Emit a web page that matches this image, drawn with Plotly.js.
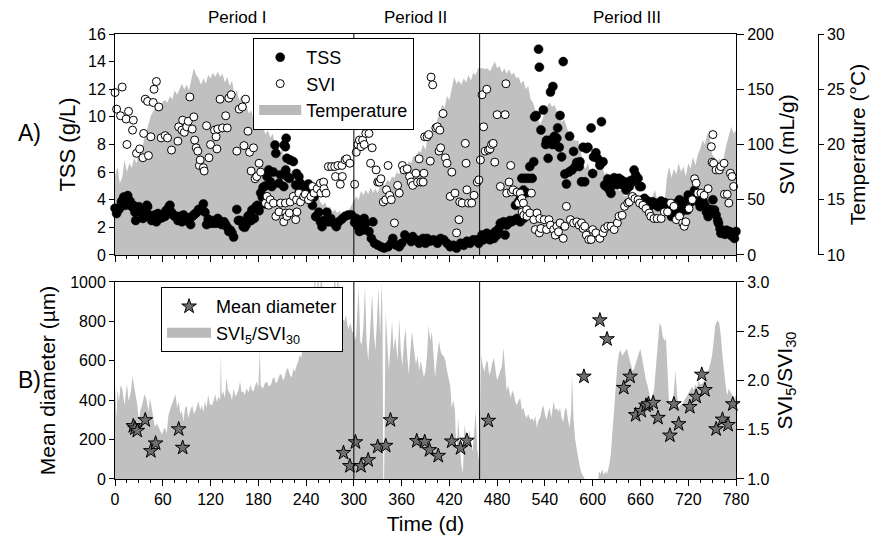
<!DOCTYPE html>
<html>
<head>
<meta charset="utf-8">
<script src="https://cdn.plot.ly/plotly-3.0.1.min.js"></script>
<style>html,body{margin:0;padding:0;background:#fff;}#chart{width:878px;height:548px;}</style>
</head>
<body>
<div id="chart"></div>
<script>
// ---------- Panel A: temperature (daily, sampled every 3 d) ----------
const tempDay = [0,3,6,9,12,15,18,21,24,27,30,33,36,39,42,45,48,51,54,57,60,63,66,69,72,75,78,81,84,87,90,93,96,99,102,105,108,111,114,117,120,123,126,129,132,135,138,141,144,147,150,153,156,159,162,165,168,171,174,177,180,183,186,189,192,195,198,201,204,207,210,213,216,219,222,225,228,231,234,237,240,243,246,249,252,255,258,261,264,267,270,273,276,279,282,285,288,291,294,297,300,303,306,309,312,315,318,321,324,327,330,333,336,339,342,345,348,351,354,357,360,363,366,369,372,375,378,381,384,387,390,393,396,399,402,405,408,411,414,417,420,423,426,429,432,435,438,441,444,447,450,453,456,459,462,465,468,471,474,477,480,483,486,489,492,495,498,501,504,507,510,513,516,519,522,525,528,531,534,537,540,543,546,549,552,555,558,561,564,567,570,573,576,579,582,585,588,591,594,597,600,603,606,609,612,615,618,621,624,627,630,633,636,639,642,645,648,651,654,657,660,663,666,669,672,675,678,681,684,687,690,693,696,699,702,705,708,711,714,717,720,723,726,729,732,735,738,741,744,747,750,753,756,759,762,765,768,771,774,777,780];
const tempC = [17.1,18.0,16.5,17.0,18.6,17.5,18.3,17.9,18.8,18.3,19.3,18.8,20.3,21.0,21.8,22.6,23.0,23.4,23.6,23.3,23.9,24.0,23.8,24.4,24.1,24.9,24.5,25.0,25.5,25.0,25.4,24.9,25.8,26.9,26.3,26.0,25.4,26.0,25.5,26.3,26.0,26.5,26.1,26.6,26.1,26.4,25.6,26.1,25.3,25.8,24.5,24.9,24.0,24.4,23.3,23.6,22.8,23.1,22.3,21.6,22.0,21.3,21.6,20.9,21.3,20.6,21.0,20.0,20.3,19.3,19.5,18.5,18.8,17.9,17.5,17.1,16.5,16.3,16.0,16.3,15.8,15.5,15.8,15.3,15.0,15.4,14.8,14.5,14.8,14.1,14.4,13.9,14.1,13.8,14.0,13.6,13.9,13.6,14.1,14.5,14.8,15.3,15.0,15.8,15.4,15.9,15.5,16.1,15.6,16.0,15.6,16.3,16.5,16.3,16.8,16.6,17.1,17.0,17.5,17.3,17.8,18.0,17.8,18.5,18.3,19.0,18.8,19.4,19.3,20.0,19.5,21.0,20.8,21.5,21.3,22.3,22.8,23.6,23.3,24.4,24.0,25.0,26.1,25.5,25.8,25.4,26.0,25.6,26.3,25.8,26.5,26.3,26.9,26.9,26.9,26.8,26.9,26.6,27.0,27.5,26.9,27.1,26.5,26.9,26.4,26.8,26.3,26.5,26.0,26.1,25.5,25.8,25.0,25.3,24.1,23.8,23.1,22.5,21.8,22.3,23.0,23.5,23.8,23.4,23.6,23.0,22.8,22.0,22.3,21.6,21.0,21.3,20.5,20.3,20.4,19.4,18.1,17.8,18.3,17.5,17.9,17.0,18.1,18.6,18.0,17.3,17.5,16.9,16.6,17.0,16.3,15.8,16.0,15.4,15.3,15.8,15.0,14.8,15.1,14.5,14.6,14.3,14.4,15.0,14.5,15.3,15.9,15.0,14.5,14.1,14.5,16.9,18.0,17.0,17.8,17.3,18.3,17.5,18.0,17.1,18.3,17.8,18.9,18.1,19.1,19.6,20.4,20.0,21.0,20.6,19.1,18.8,18.0,18.8,17.8,19.0,20.0,20.8,21.6,21.0,21.3];

// ---------- Panel A: TSS (g/L) ----------
const tssDay = [0,2,3,5,7,8,10,11,13,14,16,17,19,21,23,25,26,28,30,31,33,35,36,38,40,41,43,44,46,48,50,52,54,56,57,59,61,63,64,66,68,69,71,73,75,77,79,81,82,84,86,87,89,91,93,95,97,99,101,103,105,107,109,111,113,115,117,119,121,123,125,127,129,131,132,134,137,139,141,143,145,147,149,153,155,157,159,161,163,165,167,169,171,172,175,177,179,181,183,185,186,188,189,191,193,195,197,199,201,202,206,208,212,212.5,214,214.5,215,216,216.5,219,220,224,227,228,231,231.5,233,235,237,239,241,243,246,248,250,252,256,258,260,262,266,268,271,275,278,281,285,289,293,297,
301,303,305,307,309,311,313,315,319,322,324,326,330,334,338,343,347,349,353,357,360,364,368,372,374,378,382,387,390,392,396,400,405,409,413,417,421,425,429,434,438,442,446,450,455,457,
461,463,465,467,469,471,474,476,478,480,482,484,486,488,490,492,494,496,498,501,503,505,507,509,509.5,511,513,513.5,515,517,519,521,524,526,527,529,532,533,535,538,541,542,544,546,547,549,550,552,553,555,556,558,559,561,563,565,567,570,571,574,576,578,580,583,584,586,588,590,592,594,598,600,601,604,606,609,611,613,615,617,619,621,623,625,627,629,631,633,636,638,640,642,644,646,648,650,652,654,657,659,661,663,665,667,669,671,673,675,677,680,682,684,686,688,690,693,696,699,701,703,705,707,709,711,713,715,717,719,720,722,724,726,728,730,732,735,737,739,741,743,745,747,749,751,753,755,757,758,760,761,763,766,768,770,772,774,776,778,780];
const tssVal = [3.38,3.0,3.26,3.3,3.5,3.86,4.0,4.2,3.6,4.1,4.3,3.98,3.9,3.5,3.6,3.1,2.5,3.4,3.5,3.1,3.1,2.65,2.7,2.9,3.6,3.5,2.9,2.8,2.5,2.65,2.9,2.4,3.0,2.65,2.8,2.7,2.9,2.8,3.2,3.3,3.5,3.6,3.1,2.9,2.8,2.8,2.5,2.6,2.8,2.4,2.9,2.65,2.5,2.7,2.4,2.2,2.8,2.9,3.0,3.1,3.3,3.26,3.4,3.7,3.1,2.2,2.6,2.3,2.5,2.3,2.4,2.3,2.65,2.5,2.3,2.2,2.4,2.2,2.0,1.7,1.8,1.6,1.3,3.3,2.5,2.5,2.4,2.05,2.0,2.2,2.8,2.9,2.5,3.26,2.65,3.5,3.6,3.2,4.5,4.2,4.9,3.7,5.0,5.67,6.15,5.3,4.95,6.0,7.96,7.36,5.19,5.8,4.95,7.96,7.84,6.15,8.45,7.0,5.67,5.55,6.88,6.76,5.07,5.9,5.67,4.58,5.19,4.58,4.83,4.2,4.7,5.14,4.1,3.6,4.2,2.78,3.1,2.4,2.05,2.5,3.1,2.4,2.65,2.3,2.05,2.4,2.6,2.8,2.9,2.9,
2.34,2.65,2.05,1.7,2.5,1.8,2.65,2.3,1.7,1.2,2.4,0.85,0.72,0.6,0.5,0.6,0.85,1.2,0.72,0.6,0.85,1.45,1.2,0.97,1.33,1.1,0.85,1.2,0.85,1.2,1.0,1.1,0.85,1.2,1.1,0.85,0.6,0.7,0.5,0.85,0.7,1.0,0.85,1.1,1.1,0.85,
1.45,1.1,1.3,1.57,1.2,1.1,1.5,1.2,1.7,1.45,1.9,2.3,2.2,2.4,1.45,2.17,2.3,2.5,2.4,2.5,3.6,2.65,3.86,2.4,4.2,5.55,4.7,2.65,5.55,4.5,5.55,6.4,5.55,6.75,10.0,10.1,14.9,13.6,9.05,10.5,8.0,8.3,7.0,8.3,11.8,8.0,12.2,8.6,8.0,8.45,9.2,7.8,10.1,7.1,14.0,5.86,5.14,6.0,8.6,6.15,7.5,6.4,6.7,6.4,6.75,5.3,7.8,5.3,7.7,7.8,9.2,5.9,7.1,7.4,7.0,6.5,9.65,6.75,5.07,4.95,5.5,4.7,4.46,5.07,5.6,5.3,5.1,5.55,5.43,5.07,5.3,4.7,5.0,4.95,5.4,5.3,6.15,5.8,5.55,4.95,4.95,4.0,4.1,3.74,3.9,3.74,3.6,3.86,3.7,3.74,3.5,3.74,3.9,3.6,3.8,3.74,3.5,2.78,3.2,3.1,3.74,3.3,4.0,3.1,3.4,3.6,3.9,3.26,4.34,3.74,3.9,4.1,4.7,4.46,3.86,3.5,4.1,3.86,3.6,3.1,2.78,3.3,3.26,4.0,3.26,2.9,2.5,2.3,1.9,1.57,1.7,1.5,1.8,1.6,1.7,1.4,1.45,1.2,1.7];

// ---------- Panel A: SVI (mL/g) ----------
const sviDay = [0,2,7,9,14,15,17,22,23,27,31,35,36,38,41,42,45,48,49,52,55,58,63,66,71,79,80,84,85,87,90,92,94,97,99,100,102,104,106,107,111,112,115,118,120,125,127,128,129,132,135,139,141,143,146,153,156,160,162,164,167,169,171,174,176,178,181,183,
189,191,193,195,199,202,206,208,212,214,214.5,216,219,220,224,227,228,228.5,231,233,237,239,243,246,248,250,254,258,258.5,262,262.5,265,268,272,276,277,280,283,285,285.5,289,291,295,
301,303,305,307,309,311,313,315,319,321,323,328,330,332,334,337,340,341,343,345,347,351,355,357,361,363,367,370,372,374,378,380,382,384,387,388,389,392,394,396,397,399,403,405,407,408,409,412,415,417,421,423,427,429,432,433,436,440,441,442,444,448,451,455,457,
459,461,463,465,467,469,471,473,475,477,480,484,490,491,492,495,497,498,500,505,507,509,511,511.5,513,513.5,517,517.5,521,523,526,528,530,533,533.5,535,539,542,545,547,551,553,555,557,559,563,565,567,572,576,580,583,586,588,590,592,595,598,600,604,609,613,615,619,623,627,631,633,637,640,644,646,650,653,657,659,663,667,671,673,677,681,686,690,694,698,702,705,709,713,715,717,721,725,728,730,732,736,740,745,749,750,751,752,755,759,761,765,765.5,769,771,773,775,777];
const sviVal = [147,132,126,152,123,100,130,113,122,92,96,88,110,141,139,90,107,138,150,157,134,106,108,106,95,103,116,113,122,111,116,121,143,114,125,104,97,94,81,86,79,76,117,88,100,113,107,96,114,141,115,126,115,142,145,94,132,134,99,141,112,93,76,97,69,71,83,75,
47,53,45,50,47,35,39,47,30,47,38,35,38,48,53,32,50,39,56,48,53,55,50,53,62,56,60,65,56,66,60,56,80,80,80,71,81,64,81,71,86,87,83,
64,93,100,104,98,104,100,110,110,83,97,77,66,66,69,48,50,59,81,54,50,29,63,56,81,77,78,71,66,63,74,66,87,66,66,74,107,107,109,85,161,154,115,116,94,113,97,128,88,83,53,75,56,20,32,48,47,101,83,59,47,47,54,66,68,
86,145,116,94,150,95,96,100,101,84,127,62,127,155,56,66,81,57,59,57,47,56,51,39,47,36,41,35,38,56,32,23,38,20,33,24,32,23,32,27,23,18,26,21,29,15,26,44,32,29,30,27,29,24,26,18,14,14,23,20,15,20,24,26,26,23,29,35,36,44,47,48,53,51,50,47,45,42,38,35,33,33,33,39,39,47,44,32,35,29,26,30,42,50,69,65,56,56,54,60,98,84,109,83,77,77,80,83,55,55,47,74,71,62];

// ---------- Panel B: SVI5/SVI30 ----------
const ratioDay = [0,2,3,5,7,9,12,15,17,20,22,25,28,30,32,34,37,39,42,44,47,50,53,55,57,59,61,63,65,67,69,71,74,76,78,80,82,84,86,88,90,92,94,97,99,101,103,105,107,109,111,113,115,117,119,122,124,126,128,130,132,133,134,136,138,140,142,145,147,149,151,153,155,157,159,161,163,165,168,170,172,174,176,178,180,182,183,186,188,191,193,196,198,200,202,204,207,209,211,213,215,217,220,222,224,226,228,230,232,234,236,238,241,243,245,247,249,251,253,255,257,259,262,265,268,271,274,276,278,280,282,285,288,290,293,296,298,300,301,303,306,308,310,312,314,316,318,320,323,325,327,329,331,333,335,336,337,338,339,340,342,344,346,348,350,352,355,357,359,361,363,365,367,369,371,373,375,378,380,382,384,386,388,390,392,394,396,398,400,402,404,407,409,411,413,415,417,419,421,423,425,427,429,431,433,435,437,439,441,443,445,447,449,451,453,455,457,458,459,460,462,464,466,468,470,472,474,476,478,480,482,484,486,488,490,492,494,497,499,501,503,505,507,509,511,513,515,517,519,522,524,526,528,530,532,534,536,538,540,542,544,546,548,551,553,555,557,559,561,563,565,567,569,571,573,574,576,578,580,582,584,586,588,590,592,597,600,604,607,608,610,612,614,616,618,620,622,623,625,627,629,631,633,635,637,639,641,643,645,648,650,652,654,656,658,660,662,665,667,669,671,673,675,677,679,681,683,684,686,688,690,692,694,696,698,700,702,704,706,708,710,713,715,717,719,721,723,725,727,729,731,733,735,738,740,742,744,746,748,750,752,754,756,757,759,761,763,765,767,769,771,773,775,777,780];
const ratioVal = [1.96,1.62,1.91,1.79,1.95,1.92,1.75,1.97,1.79,1.89,2.04,1.89,1.75,1.59,1.70,1.75,1.86,1.82,1.69,1.82,1.65,1.53,1.56,1.52,1.48,1.45,1.50,1.52,1.46,1.64,1.70,1.75,1.80,1.86,1.72,1.79,1.66,1.69,1.58,1.72,1.74,1.62,1.68,1.75,1.66,1.69,1.74,1.79,1.70,1.75,1.68,1.79,1.72,1.86,1.76,1.75,1.80,1.86,1.78,1.84,1.80,2.27,1.85,1.89,1.82,2.03,1.90,1.86,1.80,1.92,1.84,1.86,1.90,1.99,1.88,1.89,1.85,1.92,1.88,1.96,1.90,1.89,1.95,1.99,1.93,2.31,1.95,1.92,1.97,1.99,1.94,1.96,2.02,2.03,1.97,1.99,2.06,2.06,2.00,2.03,2.10,2.13,2.05,2.03,2.12,2.09,2.15,2.19,2.26,2.23,2.40,2.35,2.45,2.44,2.50,2.48,2.55,3.20,2.60,3.20,2.65,3.20,2.60,2.70,2.62,2.75,2.70,3.20,2.68,3.20,2.70,2.65,2.60,2.66,2.52,2.58,2.49,2.50,2.40,2.46,2.94,2.40,2.36,2.55,2.96,2.40,2.20,2.45,2.88,2.50,2.30,2.60,2.94,2.45,3.00,2.60,1.00,1.00,2.55,2.70,2.40,2.10,2.35,2.60,2.30,2.45,2.20,2.63,2.30,2.15,2.40,2.53,2.25,2.06,2.30,2.50,2.35,2.16,2.25,2.10,2.20,2.10,2.03,2.10,2.26,2.56,2.40,2.50,2.20,2.03,2.20,2.40,2.30,2.26,2.25,2.20,2.10,2.03,1.95,1.72,1.80,1.69,1.21,1.62,1.40,1.14,1.06,1.55,1.45,1.35,1.50,1.40,1.28,1.45,1.69,1.30,1.20,1.10,2.00,2.26,2.15,2.09,2.18,2.20,2.05,2.10,2.18,2.23,2.10,2.00,2.05,2.10,2.15,2.33,2.10,1.89,1.95,1.82,1.90,1.86,1.78,1.75,1.80,1.82,1.70,1.72,1.65,1.62,1.66,1.60,1.62,1.58,1.64,1.52,1.60,1.62,1.70,1.75,1.66,1.60,1.68,1.72,1.62,1.79,1.70,1.72,1.68,1.72,1.62,1.58,1.70,1.72,1.60,1.52,1.70,2.06,1.60,1.40,1.30,1.20,1.12,1.06,1.02,1.00,1.00,1.00,1.00,1.00,1.00,1.08,1.05,1.10,1.04,1.08,1.05,1.12,1.20,1.28,1.50,1.82,2.00,2.16,2.28,2.31,2.25,2.28,2.30,2.32,2.26,2.15,2.10,2.12,2.18,2.24,2.28,2.32,2.22,2.06,2.00,1.95,1.85,1.79,1.85,1.90,2.10,2.30,2.50,2.58,2.55,2.45,2.40,2.43,2.10,1.75,1.70,1.72,1.90,2.10,1.85,1.72,1.75,1.76,1.80,1.82,1.85,1.88,1.92,1.94,1.90,1.96,1.93,2.00,1.96,1.97,2.00,2.04,2.08,2.12,2.18,2.26,2.40,2.56,2.60,2.61,2.58,2.45,2.25,2.08,1.95,1.85,1.92,1.88,1.86,1.80,1.85];

// ---------- Panel B: mean floc diameter (µm) ----------
const diaDay = [23,25,28,38,45,51,80,85,287,295,302,309,318,330,340,346,379,389,395,406,423,434,442,469,589,609,618,639,647,654,661,667,670,676,682,697,702,708,722,730,737,741,755,763,770,776];
const diaVal = [269,257,245,299,142,181,253,159,133,66,187,66,96,164,169,299,193,189,147,118,191,157,195,296,520,806,710,463,520,325,346,373,380,387,311,221,380,279,366,418,530,452,253,302,275,380];

// ---------- Periods ----------
const periodBounds = [300, 458];
const periodNames = ['Period I', 'Period II', 'Period III'];
const periodLabelDay = [154, 377, 643];

const FONT = 'Liberation Sans, Arial, Helvetica, sans-serif';
const GRAY = 'rgb(192,192,192)';

const traces = [
  {x: tempDay, y: tempC, type: 'scatter', mode: 'lines', fill: 'tozeroy', fillcolor: GRAY,
   line: {color: GRAY, width: 0}, xaxis: 'x', yaxis: 'y', showlegend: false, hoverinfo: 'skip'},
  {x: tssDay, y: tssVal, type: 'scatter', mode: 'markers', name: 'TSS', xaxis: 'x', yaxis: 'y2',
   marker: {color: '#000', size: 9, line: {color: '#000', width: 0.5}}, cliponaxis: false, legend: 'legend'},
  {x: sviDay, y: sviVal, type: 'scatter', mode: 'markers', name: 'SVI', xaxis: 'x', yaxis: 'y3',
   marker: {color: '#fff', size: 8, line: {color: '#000', width: 1}}, cliponaxis: false, legend: 'legend'},
  {x: [null], y: [null], type: 'scatter', mode: 'lines', name: 'Temperature',
   line: {color: 'rgb(185,185,185)', width: 12}, xaxis: 'x', yaxis: 'y', legend: 'legend'},
  {x: ratioDay, y: ratioVal, type: 'scatter', mode: 'lines', fill: 'tozeroy', fillcolor: GRAY,
   line: {color: GRAY, width: 0}, xaxis: 'x2', yaxis: 'y4', showlegend: false, hoverinfo: 'skip'},
  {x: diaDay, y: diaVal, type: 'scatter', mode: 'markers', name: 'Mean diameter', xaxis: 'x2', yaxis: 'y5',
   marker: {symbol: 'star', color: '#6f6f6f', size: 11, line: {color: '#000', width: 1}}, cliponaxis: false, legend: 'legend2'},
  {x: [null], y: [null], type: 'scatter', mode: 'lines',
   name: 'SVI<sub>5</sub>/SVI<sub>30</sub>', line: {color: 'rgb(185,185,185)', width: 12}, xaxis: 'x2', yaxis: 'y4', legend: 'legend2'}
];

const D = 621 / 743;
const axisCommon = {showline: true, linecolor: '#000', linewidth: 1, ticks: 'outside', tickcolor: '#000',
  ticklen: 5, tickwidth: 1, showgrid: false, zeroline: false, tickfont: {size: 16, family: FONT, color: '#000'}};
const xMinor = {dtick: 15, ticks: 'outside', ticklen: 3, tickcolor: '#000', showgrid: false};

const shapes = [];
periodBounds.forEach(b => {
  shapes.push({type: 'line', xref: 'x', yref: 'y domain', x0: b, x1: b, y0: 0, y1: 1, line: {color: '#000', width: 1}});
  shapes.push({type: 'line', xref: 'x2', yref: 'y4 domain', x0: b, x1: b, y0: 0, y1: 1, line: {color: '#000', width: 1}});
});

const annotations = periodNames.map((t, i) => ({
  text: t, x: periodLabelDay[i], xref: 'x', y: 1.038, yref: 'paper', showarrow: false,
  xanchor: 'center', yanchor: 'middle', font: {size: 17, family: FONT, color: '#000'}
}));
annotations.push({text: 'A)', x: -0.115, xref: 'paper', y: 0.778, yref: 'paper', showarrow: false,
  xanchor: 'center', yanchor: 'middle', font: {size: 23, family: FONT, color: '#000'}});
annotations.push({text: 'B)', x: -0.115, xref: 'paper', y: 0.222, yref: 'paper', showarrow: false,
  xanchor: 'center', yanchor: 'middle', font: {size: 23, family: FONT, color: '#000'}});

const layout = {
  width: 878, height: 548,
  margin: {l: 115, r: 20, t: 34, b: 69},
  paper_bgcolor: '#fff', plot_bgcolor: '#fff',
  font: {family: FONT, size: 16, color: '#000'},
  showlegend: true,
  xaxis: Object.assign({}, axisCommon, {domain: [0, D], range: [0, 780], anchor: 'y', mirror: true,
    dtick: 60, tick0: 0, ticklen: 6, showticklabels: false, minor: xMinor}),
  yaxis: Object.assign({}, axisCommon, {domain: [0.5034, 1], range: [10, 30], anchor: 'free', position: 0.946,
    side: 'right', dtick: 5, title: {text: 'Temperature (°C)', font: {size: 21}, standoff: 6}}),
  yaxis2: Object.assign({}, axisCommon, {overlaying: 'y', anchor: 'x', side: 'left', range: [0, 16], dtick: 2,
    title: {text: 'TSS (g/L)', font: {size: 22}, standoff: 6}}),
  yaxis3: Object.assign({}, axisCommon, {overlaying: 'y', anchor: 'x', side: 'right', range: [0, 200], dtick: 50,
    ticklen: 7, title: {text: 'SVI (mL/g)', font: {size: 21}, standoff: 6}}),
  xaxis2: Object.assign({}, axisCommon, {domain: [0, D], range: [0, 780], anchor: 'y4', mirror: true,
    dtick: 60, tick0: 0, ticklen: 6, minor: xMinor, title: {text: 'Time (d)', font: {size: 21}, standoff: 9}}),
  yaxis4: Object.assign({}, axisCommon, {domain: [0, 0.4427], range: [1, 3], anchor: 'x2', side: 'right',
    dtick: 0.5, tickformat: '.1f', ticklen: 7, title: {text: 'SVI<sub>5</sub>/SVI<sub>30</sub>', font: {size: 21}, standoff: 8}}),
  yaxis5: Object.assign({}, axisCommon, {overlaying: 'y4', anchor: 'x2', side: 'left', range: [0, 1000], dtick: 200,
    title: {text: 'Mean diameter (µm)', font: {size: 21}, standoff: 8}}),
  legend: {x: 0.186, y: 0.991, xanchor: 'left', yanchor: 'top', xref: 'paper', yref: 'paper', itemwidth: 42,
    bgcolor: '#fff', bordercolor: '#000', borderwidth: 1, font: {size: 18, family: FONT, color: '#000'}, traceorder: 'normal'},
  legend2: {x: 0.062, y: 0.431, xanchor: 'left', yanchor: 'top', xref: 'paper', yref: 'paper', itemwidth: 44,
    bgcolor: '#fff', bordercolor: '#000', borderwidth: 1, font: {size: 18, family: FONT, color: '#000'}, traceorder: 'normal'},
  shapes: shapes,
  annotations: annotations
};

Plotly.newPlot('chart', traces, layout, {staticPlot: true, displayModeBar: false});
</script>
</body>
</html>
